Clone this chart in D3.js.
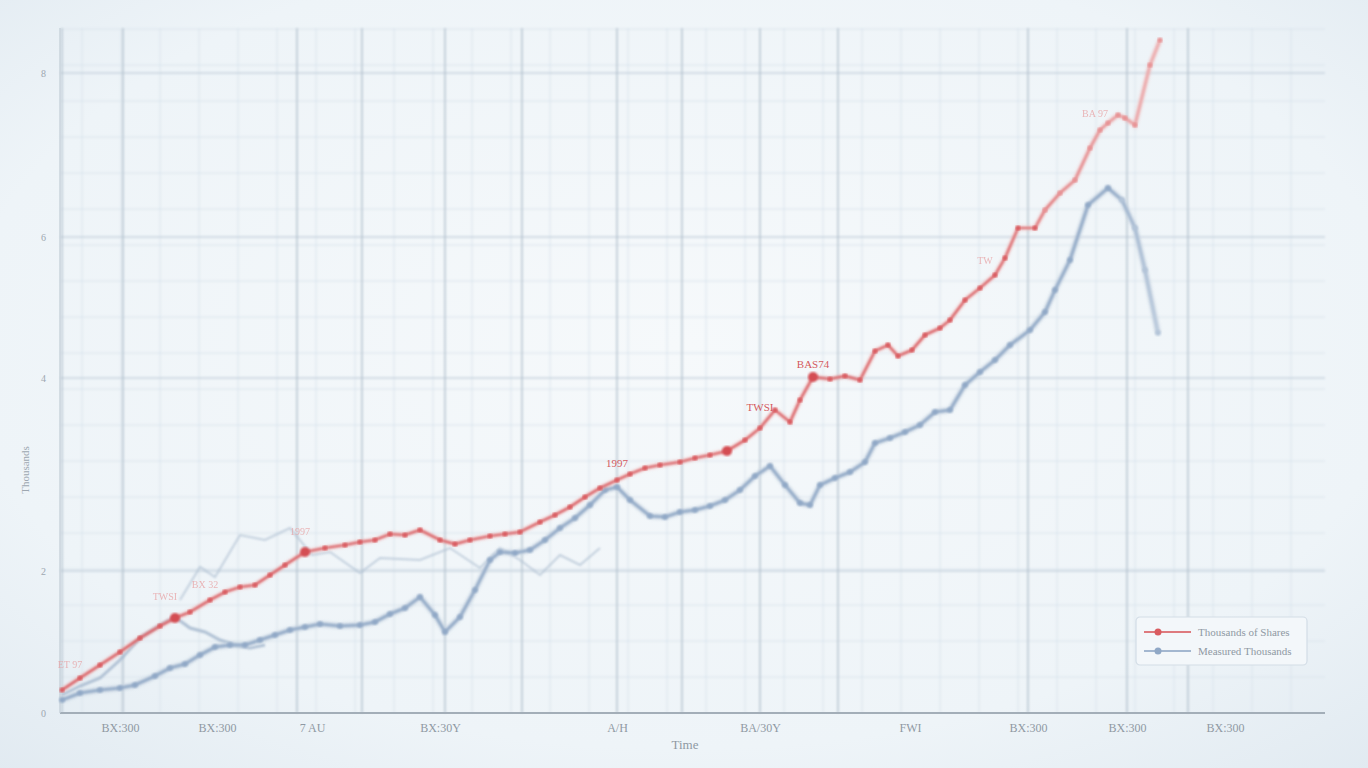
<!DOCTYPE html>
<html><head><meta charset="utf-8">
<script src="https://cdn.jsdelivr.net/npm/d3@7"></script>
<style>
html,body{margin:0;padding:0;background:#eaf1f6;}
svg{display:block;font-family:"Liberation Serif","DejaVu Serif",serif;}
</style></head>
<body>
<svg id="chart" width="1368" height="768"></svg>
<script>
// ---- data (time units, value units) ----
const xTickValues = [60, 157, 252, 380, 557, 700, 850, 968, 1067, 1165];
const xTickLabels = ["BX:300", "BX:300", "7 AU", "BX:30Y", "A/H", "BA/30Y", "FWI", "BX:300", "BX:300", "BX:300"];
const yTickValues = [0, 142, 335, 476, 640];
const yTickLabels = ["0", "2", "4", "6", "8"];
const majorGridX = [2, 63, 237, 302, 385, 462, 557, 622, 700, 778, 968, 1067, 1128];

const redT = [2,20,40,60,80,100,115,130,150,165,180,195,210,225,245,265,285,300,315,330,345,360,380,395,410,430,445,460,480,495,510,525,540,557,570,585,600,620,635,650,667,685,700,715,730,740,753,770,785,800,815,828,838,852,865,880,890,905,920,935,945,958,975,985,1000,1015,1030,1040,1048,1058,1065,1075,1090,1100];
const redV = [23,35,48,61,75,87,95,101,113,121,126,128,138,148,161,165,168,171,173,179,178,183,173,169,173,177,179,181,191,198,206,216,225,233,239,245,248,251,255,258,262,273,285,303,291,313,336,334,337,333,362,368,357,363,378,385,393,413,425,438,455,485,485,503,520,533,565,583,590,598,595,588,648,673];
const blueT = [2,20,40,60,75,95,110,125,140,155,170,185,200,215,230,245,260,280,300,315,330,345,360,375,385,400,415,430,440,455,470,485,500,515,530,545,557,570,590,605,620,635,650,665,680,695,710,725,740,750,760,775,790,805,815,830,845,860,875,890,905,920,935,950,970,985,995,1010,1028,1048,1062,1075,1085,1098];
const blueV = [13,20,23,25,28,37,45,49,58,66,68,68,73,78,83,86,89,87,88,91,99,105,116,98,81,96,123,153,161,160,163,173,185,195,208,223,226,213,197,196,201,203,207,213,223,237,247,228,210,208,228,235,241,251,270,275,281,288,301,303,328,341,353,368,383,401,423,453,508,525,513,485,443,380];
const blue2T = [2,20,40,60,80,100,115,130,145,160,175,190,205];
const blue2V = [18,27,35,53,75,88,96,85,81,73,68,65,68];
const blue3T = [120,140,155,180,205,230,252,270,300,320,360,390,420,440,460,480,500,520,540];
const blue3V = [113,146,136,178,173,185,158,161,140,155,153,165,145,165,153,138,158,148,165];
const pointAnnot = [{t:557, v:237, label:"1997"}, {t:700, v:293, label:"TWSI"}, {t:753, v:336, label:"BAS74"}];
const faintAnnot = [{t:10, v:37, label:"ET 97"}, {t:105, v:105, label:"TWSI"}, {t:145, v:117, label:"BX 32"}, {t:240, v:170, label:"1997"}, {t:925, v:441, label:"TW"}, {t:1035, v:588, label:"BA 97"}];
const bigDots = [{t:245, v:161}, {t:667, v:262}, {t:753, v:336}, {t:115, v:95}];
const legendLabels = ["Thousands of Shares", "Measured Thousands"];
const xTitle = "Time";
const yTitle = "Thousands";

// ---- layout ----
const svg = d3.select("#chart");
const W = 1368, H = 768;
const mLeft = 60, mRight = 1325, mTop = 13, mBottom = 713;

const defs = svg.append("defs");
const bg = defs.append("radialGradient").attr("id","bg").attr("cx","50%").attr("cy","45%").attr("r","75%");
bg.append("stop").attr("offset","0%").attr("stop-color","#f6f9fb");
bg.append("stop").attr("offset","70%").attr("stop-color","#eef4f8");
bg.append("stop").attr("offset","100%").attr("stop-color","#e1eaf1");
const soft = defs.append("filter").attr("id","soft").attr("x","-5%").attr("y","-5%").attr("width","110%").attr("height","110%");
soft.append("feGaussianBlur").attr("stdDeviation",0.8);
const softer = defs.append("filter").attr("id","softer").attr("x","-5%").attr("y","-5%").attr("width","110%").attr("height","110%");
softer.append("feGaussianBlur").attr("stdDeviation",1.6);

const x = d3.scaleLinear().domain([0, 1265]).range([mLeft, mRight]);
const y = d3.scaleLinear().domain([0, 700]).range([mBottom, mTop]);

function fadeGrad(id, col, pale, start, end) {
  const g = defs.append("linearGradient").attr("id", id).attr("gradientUnits","userSpaceOnUse")
    .attr("x1", x(start)).attr("x2", x(end)).attr("y1", 0).attr("y2", 0);
  g.append("stop").attr("offset","0%").attr("stop-color", col);
  g.append("stop").attr("offset","100%").attr("stop-color", pale);
}
fadeGrad("redFade", "#d95c60", "#eda9aa", 930, 1100);
fadeGrad("blueFade", "#90a8c6", "#b9c9dc", 1050, 1100);

svg.append("rect").attr("width",W).attr("height",H).attr("fill","url(#bg)");

// grid
const grid = svg.append("g").attr("filter","url(#soft)");
grid.selectAll("line.minx").data(d3.range(22, 1265, 39)).join("line")
  .attr("x1", d=>x(d)).attr("x2", d=>x(d)).attr("y1", 28).attr("y2", mBottom)
  .attr("stroke","#dae4ec").attr("stroke-width",1);
grid.selectAll("line.miny").data(d3.range(36, 690, 36)).join("line")
  .attr("x1", mLeft).attr("x2", mRight).attr("y1", d=>y(d)).attr("y2", d=>y(d))
  .attr("stroke","#dae4ec").attr("stroke-width",1);
grid.selectAll("line.majy").data(yTickValues.slice(1)).join("line")
  .attr("x1", mLeft).attr("x2", mRight).attr("y1", d=>y(d)).attr("y2", d=>y(d))
  .attr("stroke","#c8d4df").attr("stroke-width",1.3);
grid.selectAll("line.majx").data(majorGridX).join("line")
  .attr("x1", d=>x(d)).attr("x2", d=>x(d)).attr("y1", 28).attr("y2", mBottom)
  .attr("stroke","#b4c2ce").attr("stroke-width",1.4);

// axes
const xAxis = d3.axisBottom(x).tickValues(xTickValues).tickFormat((d,i)=>xTickLabels[i]).tickSize(0).tickPadding(10);
const gx = svg.append("g").attr("transform",`translate(0,${mBottom})`).call(xAxis)
  .attr("font-family","Liberation Serif, serif");
gx.select(".domain").attr("stroke","#a3aeb8").attr("stroke-width",2).attr("d",`M${mLeft},0H${mRight}`);
gx.selectAll("text").attr("fill","#8f99a3").attr("font-size",12);

const yAxis = d3.axisLeft(y).tickValues(yTickValues).tickFormat((d,i)=>yTickLabels[i]).tickSize(0).tickPadding(14);
const gy = svg.append("g").attr("transform",`translate(${mLeft},0)`).call(yAxis)
  .attr("font-family","Liberation Serif, serif");
gy.select(".domain").attr("stroke","#c4cfd8").attr("stroke-width",1.2).attr("d",`M0,28V${mBottom}`);
gy.selectAll("text").attr("fill","#9da7b0").attr("font-size",10);

svg.append("text").attr("x",685).attr("y",749).attr("text-anchor","middle")
  .attr("fill","#8f99a3").attr("font-size",13).text(xTitle);
svg.append("text").attr("transform","translate(29,470) rotate(-90)").attr("text-anchor","middle")
  .attr("fill","#9da7b0").attr("font-size",11).text(yTitle);

// lines
const line = d3.line().x(d=>x(d[0])).y(d=>y(d[1])).curve(d3.curveLinear);
const zip = (a,b)=>a.map((t,i)=>[t,b[i]]);
const marks = svg.append("g");

marks.append("path").datum(zip(blue3T, blue3V)).attr("d", line)
  .attr("fill","none").attr("stroke","#b3c3d4").attr("stroke-width",2).attr("opacity",0.75).attr("filter","url(#soft)");
marks.append("path").datum(zip(blue2T, blue2V)).attr("d", line)
  .attr("fill","none").attr("stroke","#a5b8ce").attr("stroke-width",3).attr("opacity",0.85).attr("filter","url(#soft)");
marks.append("path").datum(zip(blueT, blueV)).attr("d", line)
  .attr("fill","none").attr("stroke","#c8d4e1").attr("stroke-width",6).attr("opacity",0.8).attr("filter","url(#softer)");
marks.append("path").datum(zip(blueT, blueV)).attr("d", line)
  .attr("fill","none").attr("stroke","url(#blueFade)").attr("stroke-width",2.6).attr("filter","url(#soft)");
marks.selectAll("circle.b").data(zip(blueT, blueV)).join("circle")
  .attr("cx", d=>x(d[0])).attr("cy", d=>y(d[1])).attr("r",2.8)
  .attr("fill", d=>d[0] > 1060 ? "#b3c4d8" : "#90a8c6").attr("filter","url(#soft)");

marks.append("path").datum(zip(redT, redV)).attr("d", line)
  .attr("fill","none").attr("stroke","#f0b6b6").attr("stroke-width",5).attr("opacity",0.55).attr("filter","url(#softer)");
marks.append("path").datum(zip(redT, redV)).attr("d", line)
  .attr("fill","none").attr("stroke","url(#redFade)").attr("stroke-width",2.2).attr("filter","url(#soft)");
marks.selectAll("circle.r").data(zip(redT, redV)).join("circle")
  .attr("cx", d=>x(d[0])).attr("cy", d=>y(d[1])).attr("r",2.6)
  .attr("fill", d=>d[0] > 980 ? "#e79294" : "#d95c60").attr("filter","url(#soft)");
marks.selectAll("circle.big").data(bigDots).join("circle")
  .attr("cx", d=>x(d.t)).attr("cy", d=>y(d.v)).attr("r",5).attr("fill","#d44e53").attr("filter","url(#soft)");

// annotations
svg.selectAll("text.ann").data(pointAnnot).join("text")
  .attr("x", d=>x(d.t)).attr("y", d=>y(d.v)-9).attr("text-anchor","middle")
  .attr("fill","#d45a5e").attr("font-size",11).text(d=>d.label);
svg.selectAll("text.fann").data(faintAnnot).join("text")
  .attr("x", d=>x(d.t)).attr("y", d=>y(d.v)-8).attr("text-anchor","middle")
  .attr("fill","#e79a9c").attr("opacity",0.7).attr("font-size",10).text(d=>d.label);

// legend
const lg = svg.append("g").attr("transform","translate(1136,617)");
lg.append("rect").attr("width",171).attr("height",48).attr("rx",4)
  .attr("fill","#f3f7fa").attr("stroke","#d3dde6").attr("stroke-width",1.2);
const lcol = ["#d95c60","#90a8c6"];
legendLabels.forEach((l,i)=>{
  const g = lg.append("g").attr("transform",`translate(0,${15+i*19})`);
  g.append("line").attr("x1",8).attr("x2",55).attr("stroke",lcol[i]).attr("stroke-width",2).attr("opacity",0.8);
  g.append("circle").attr("cx",22).attr("r",3.5).attr("fill",lcol[i]);
  g.append("text").attr("x",62).attr("y",4).attr("fill","#8f99a3").attr("font-size",11).text(l);
});
</script>
</body></html>
